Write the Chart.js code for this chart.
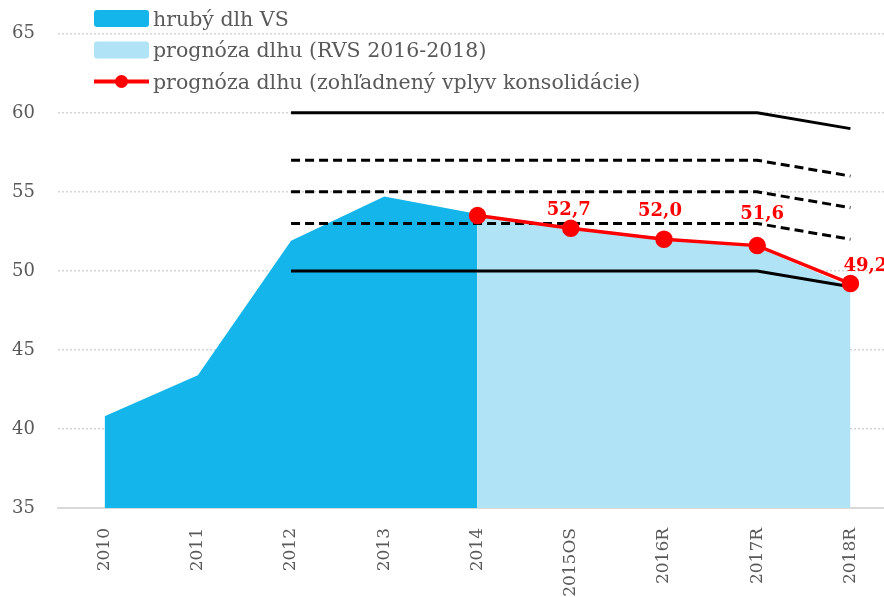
<!DOCTYPE html>
<html><head><meta charset="utf-8">
<script src="https://cdn.jsdelivr.net/npm/chart.js@4/dist/chart.umd.min.js"></script>
<style>html,body{margin:0;padding:0;background:#fff}#wrap{width:884px;height:597px;position:relative}</style>
</head><body><div id="wrap"><canvas id="c" width="884" height="597"></canvas></div>
<script>
// ---- data ----
const categories = ['2010','2011','2012','2013','2014','2015OS','2016R','2017R','2018R'];
const grossDebt      = [40.8, 43.4, 51.9, 54.7, 53.6, null, null, null, null];
const forecastRVS    = [null, null, null, null, 53.6, 52.8, 52.1, 51.5, 49.0];
const forecastConsol = [null, null, null, null, 53.5, 52.7, 52.0, 51.6, 49.2];
const limit60 = [null, null, 60, 60, 60, 60, 60, 60, 59];
const limit57 = [null, null, 57, 57, 57, 57, 57, 57, 56];
const limit55 = [null, null, 55, 55, 55, 55, 55, 55, 54];
const limit53 = [null, null, 53, 53, 53, 53, 53, 53, 52];
const limit50 = [null, null, 50, 50, 50, 50, 50, 50, 49];
const yTicks = [35, 40, 45, 50, 55, 60, 65];
const legendLabels = ['hrubý dlh VS', 'prognóza dlhu (RVS 2016-2018)', 'prognóza dlhu (zohľadnený vplyv konsolidácie)'];

// ---- styling ----
const FONT = "'DejaVu Serif', serif";
const TXT = '#595959';
const C_DARK = '#14b5ea', C_LIGHT = '#b0e3f5', C_RED = '#ff0000';
// hand placement of the value labels (dx, dy from the point), as in the reference
const labelShift = {5: [-2, -13], 6: [-4, -23], 7: [5, -27], 8: [15, -13]};

const xy = arr => arr.map((v, i) => ({x: i, y: v}));

function limitDs(arr, dashed) {
  return {type: 'line', data: xy(arr), borderColor: '#000', borderWidth: 3,
    borderDash: dashed ? [9, 5] : [], pointRadius: 0, fill: false, order: 1, tension: 0};
}

const datasets = [
  {label: legendLabels[2], kind: 'line', data: xy(forecastConsol), borderColor: C_RED, backgroundColor: C_RED,
   borderWidth: 3.5, pointRadius: 7, pointBackgroundColor: C_RED, pointBorderColor: C_RED, fill: false, order: 0, labelled: true},
  limitDs(limit60, false), limitDs(limit57, true), limitDs(limit55, true), limitDs(limit53, true), limitDs(limit50, false),
  {label: legendLabels[1], kind: 'area', data: xy(forecastRVS), borderWidth: 0, borderColor: C_LIGHT,
   backgroundColor: C_LIGHT, pointRadius: 0, fill: 'start', order: 2},
  {label: legendLabels[0], kind: 'area', data: xy(grossDebt), borderWidth: 0, borderColor: C_DARK,
   backgroundColor: C_DARK, pointRadius: 0, fill: 'start', order: 3}
];

const legendPlugin = {
  id: 'customLegend',
  afterDraw(chart) {
    const ctx = chart.ctx;
    const byLabel = {};
    chart.data.datasets.forEach(d => { if (d.label) byLabel[d.label] = d; });
    ctx.save();
    legendLabels.forEach((lab, i) => {
      const d = byLabel[lab];
      const cy = 18.5 + i * 31.5;
      const x0 = 94, x1 = 149;
      if (d.kind === 'area') {
        ctx.fillStyle = d.backgroundColor;
        ctx.beginPath();
        ctx.roundRect(x0, cy - 8.5, x1 - x0, 17, 3);
        ctx.fill();
      } else {
        ctx.strokeStyle = d.borderColor; ctx.lineWidth = 4;
        ctx.beginPath(); ctx.moveTo(x0, cy); ctx.lineTo(x1, cy); ctx.stroke();
        ctx.fillStyle = d.borderColor;
        ctx.beginPath(); ctx.arc((x0 + x1) / 2, cy, 6.5, 0, Math.PI * 2); ctx.fill();
      }
      ctx.fillStyle = TXT;
      ctx.font = "20.5px " + FONT;
      ctx.textBaseline = 'alphabetic';
      ctx.textAlign = 'left';
      ctx.fillText(lab, 153, cy + 7);
    });
    ctx.restore();
  }
};

const valueLabelPlugin = {
  id: 'valueLabels',
  afterDatasetsDraw(chart) {
    const ctx = chart.ctx;
    ctx.save();
    ctx.font = "bold 18px " + FONT;
    ctx.fillStyle = C_RED;
    ctx.textAlign = 'center';
    ctx.textBaseline = 'alphabetic';
    chart.data.datasets.forEach((d, di) => {
      if (!d.labelled) return;
      const meta = chart.getDatasetMeta(di);
      let first = true;
      d.data.forEach((p, i) => {
        if (p.y == null) return;
        if (first) { first = false; return; }
        const el = meta.data[i];
        const txt = p.y.toFixed(1).replace('.', ',');
        const s = labelShift[i] || [0, -14];
        ctx.fillText(txt, el.x + s[0], el.y + s[1]);
      });
    });
    ctx.restore();
  }
};

new Chart(document.getElementById('c'), {
  type: 'line',
  data: {datasets},
  plugins: [legendPlugin, valueLabelPlugin],
  options: {
    responsive: false, animation: false, devicePixelRatio: 1,
    layout: {autoPadding: false, padding: {top: 31, left: 0, right: 0, bottom: 0}},
    plugins: {legend: {display: false}, tooltip: {enabled: false}},
    elements: {line: {tension: 0}},
    scales: {
      x: {
        type: 'linear', min: -0.5, max: 8.36, z: 1,
        afterBuildTicks: s => { s.ticks = categories.map((_, i) => ({value: i})); },
        afterFit: s => { s.height = 89; s.paddingRight = 0; s.paddingLeft = 0; },
        grid: {display: false},
        border: {display: true, color: '#d9d9d9', width: 2},
        ticks: {autoSkip: false, minRotation: 90, maxRotation: 90, padding: 12,
          color: TXT, font: {family: FONT, size: 17},
          callback: v => categories[v] ?? ''}
      },
      y: {
        min: 35, max: 65,
        afterBuildTicks: s => { s.ticks = yTicks.map(v => ({value: v})); },
        afterFit: s => { s.width = 58; },
        grid: {color: '#d4d4d4', lineWidth: 1.5, drawTicks: false},
        border: {display: false, dash: [2, 2]},
        ticks: {padding: 23, color: TXT, font: {family: FONT, size: 18}}
      }
    }
  }
});
</script>
</body></html>
